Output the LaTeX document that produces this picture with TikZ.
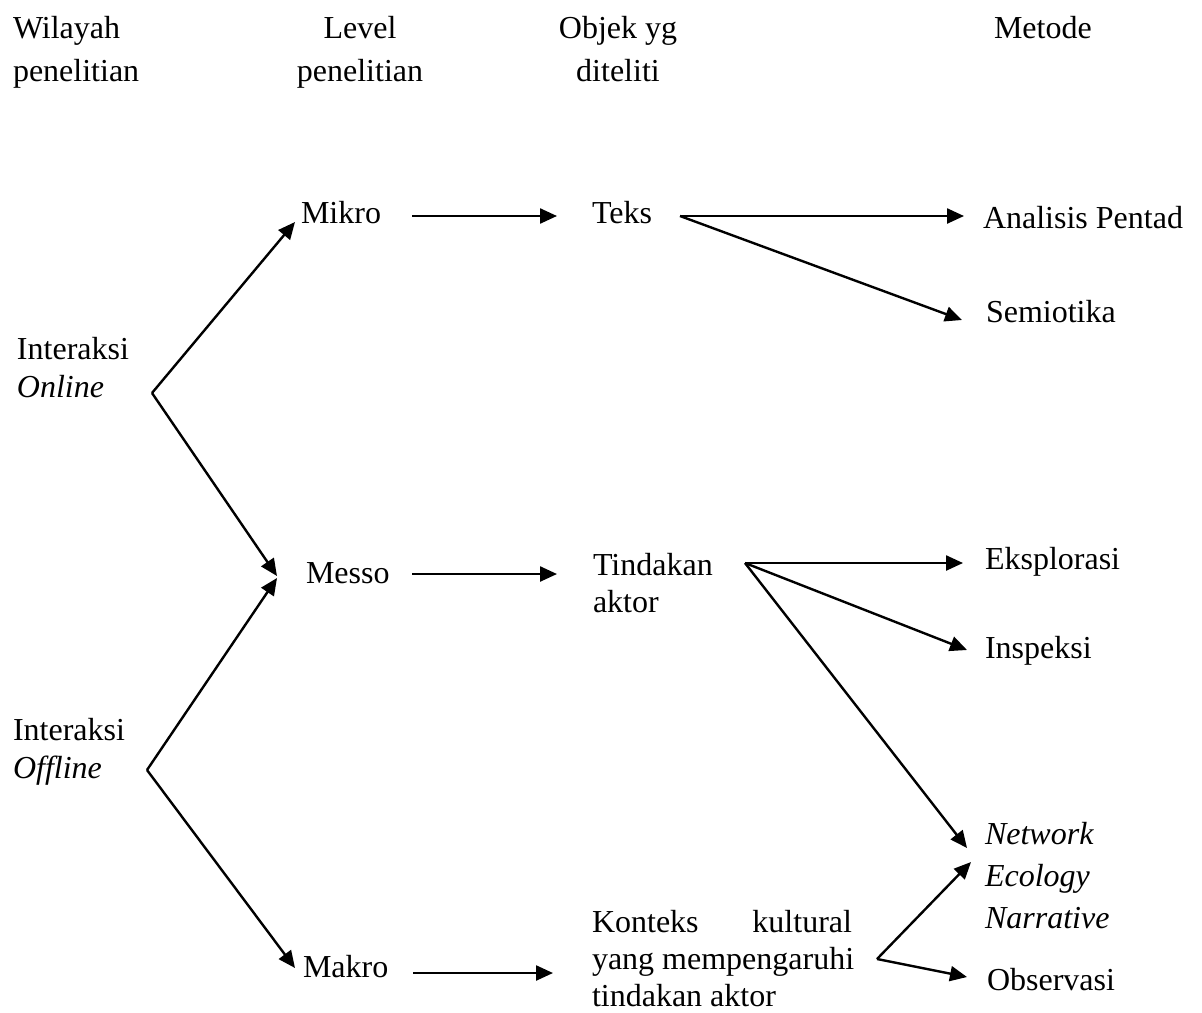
\documentclass[tikz,border=0pt]{standalone}
\usepackage{fontspec}
\setmainfont{Liberation Serif}
\usetikzlibrary{arrows.meta}

\begin{document}
\begin{tikzpicture}[x=0.5pt,y=-0.5pt,
  lbl/.style={inner sep=0pt,outer sep=0pt,font=\fontsize{16}{19}\selectfont},
  hdr/.style={lbl,font=\fontsize{16}{21.5}\selectfont},
  arr/.style={line width=1.2pt,-{Triangle[length=8.5pt,width=7.5pt]}}
]
\useasboundingbox (0,0) rectangle (1202,1012);

% column headings (multi-line nodes are placed by their last baseline)
\node[hdr,anchor=base west,align=left]   (hwil) at (13,81)  {Wilayah\\penelitian};
\node[hdr,anchor=base,align=center]      (hlev) at (360,81) {Level\\penelitian};
\node[hdr,anchor=base,align=center]      (hobj) at (618,81) {Objek yg\\diteliti};
\node[hdr,anchor=base west]              (hmet) at (994,38) {Metode};

% research area
\node[lbl,anchor=base west,align=left] (online)  at (17,397) {Interaksi\\\textit{Online}};
\node[lbl,anchor=base west,align=left] (offline) at (13,778) {Interaksi\\\textit{Offline}};

% research level
\node[lbl,anchor=base west] (mikro) at (301,223) {Mikro};
\node[lbl,anchor=base west] (messo) at (306,583) {Messo};
\node[lbl,anchor=base west] (makro) at (303,977) {Makro};

% object of study
\node[lbl,anchor=base west] (teks) at (592,223) {Teks};
\node[lbl,anchor=base west,align=left,font=\fontsize{16}{18.5}\selectfont] (tindakan) at (593,612) {Tindakan\\aktor};
\node[lbl,anchor=base west,align=left,font=\fontsize{16}{18.5}\selectfont] (konteks) at (592,1006)
  {\makebox[130pt][s]{Konteks kultural}\\yang mempengaruhi\\tindakan aktor};

% methods
\node[lbl,anchor=base west] (pentad)  at (983,228) {Analisis Pentad};
\node[lbl,anchor=base west] (semio)   at (986,322) {Semiotika};
\node[lbl,anchor=base west] (eksplo)  at (985,569) {Eksplorasi};
\node[lbl,anchor=base west] (inspek)  at (985,658) {Inspeksi};
\node[lbl,anchor=base west,align=left,font=\fontsize{16}{21}\selectfont] (network) at (985,928)
  {\textit{Network}\\\textit{Ecology}\\\textit{Narrative}};
\node[lbl,anchor=base west] (observ)  at (987,990) {Observasi};

% branching points and arrow ends
\coordinate (onV)    at (152,393);
\coordinate (offV)   at (147,770);
\coordinate (mikroIn) at (295,222);
\coordinate (messoInA) at (277,576);
\coordinate (messoInB) at (277,578);
\coordinate (makroIn) at (295,968);

\coordinate (mikroOut) at (412,216);
\coordinate (teksIn)   at (557,216);
\coordinate (messoOut) at (412,574);
\coordinate (tindIn)   at (557,574);
\coordinate (makroOut) at (413,973);
\coordinate (kontIn)   at (553,973);

\coordinate (teksV)  at (680,216);
\coordinate (tindV)  at (745,563);
\coordinate (kontV)  at (877,959);

\coordinate (pentadIn) at (964,216);
\coordinate (semioIn)  at (962,320);
\coordinate (eksploIn) at (963,563);
\coordinate (inspekIn) at (967,650);
\coordinate (netInA)   at (967,848);
\coordinate (netInB)   at (971,862);
\coordinate (observIn) at (967,977);

% area -> level
\draw[arr] (onV) -- (mikroIn);
\draw[arr] (onV) -- (messoInA);
\draw[arr] (offV) -- (messoInB);
\draw[arr] (offV) -- (makroIn);

% level -> object
\draw[arr] (mikroOut) -- (teksIn);
\draw[arr] (messoOut) -- (tindIn);
\draw[arr] (makroOut) -- (kontIn);

% object -> method
\draw[arr] (teksV) -- (pentadIn);
\draw[arr] (teksV) -- (semioIn);
\draw[arr] (tindV) -- (eksploIn);
\draw[arr] (tindV) -- (inspekIn);
\draw[arr] (tindV) -- (netInA);
\draw[arr] (kontV) -- (netInB);
\draw[arr] (kontV) -- (observIn);
\end{tikzpicture}
\end{document}
